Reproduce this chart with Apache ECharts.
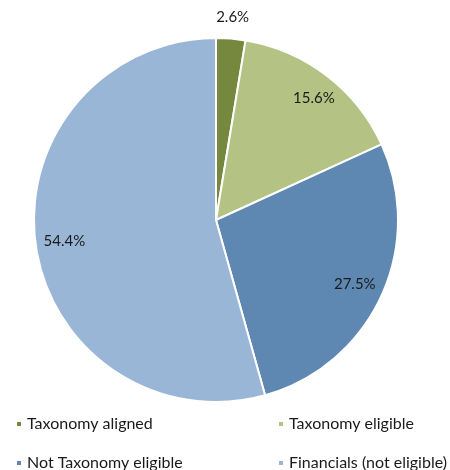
<!DOCTYPE html>
<html>
<head>
<meta charset="utf-8">
<script src="https://cdn.jsdelivr.net/npm/echarts@6/dist/echarts.min.js"></script>
<style>
  html, body { margin: 0; padding: 0; background: #ffffff; }
  #chart { width: 450px; height: 470px; }
</style>
</head>
<body>
<div id="chart"></div>
<script>
// Share of activities by taxonomy status (percent)
const categories = ['Taxonomy aligned', 'Taxonomy eligible', 'Not Taxonomy eligible', 'Financials (not eligible)'];
const shares = [2.6, 15.6, 27.5, 54.4];
const colors = ['#76873E', '#B4C284', '#5E87B1', '#9AB6D7'];

const CENTER = [216, 220];
const R = 182;
const FONT = 'Lato, "Noto Sans", sans-serif';
const fmt = p => p.value.toFixed(1) + '%';

const slices = categories.map((name, i) => ({
  name, value: shares[i], itemStyle: { color: colors[i] }
}));

// Value labels drawn on transparent rings so they sit at a chosen radius
const innerLabels = categories.map((name, i) => ({
  name, value: shares[i],
  label: i === 0 ? { show: false }
       : (i === 1 ? { padding: [0, 0, 12, 10] } : {})
}));
const outerLabels = categories.map((name, i) => ({
  name, value: shares[i],
  label: { show: i === 0 }
}));

const labelRing = (radius, data) => ({
  type: 'pie', center: CENTER, radius, silent: true,
  startAngle: 90, clockwise: true,
  itemStyle: { color: 'rgba(0,0,0,0)', borderWidth: 0 },
  label: { show: true, position: 'inside', formatter: fmt,
           color: '#1a1a1a', fontSize: 15, fontFamily: FONT },
  labelLine: { show: false },
  emphasis: { disabled: true },
  data
});

// One legend entry per box: two columns, two rows
const legendSlots = [[15, 416], [277, 416], [15, 455], [277, 455]];
const legends = categories.map((name, i) => ({
  left: legendSlots[i][0], top: legendSlots[i][1],
  padding: 0, icon: 'rect', itemWidth: 6, itemHeight: 6,
  selectedMode: false, data: [name],
  textStyle: { color: '#1a1a1a', fontSize: 16, fontFamily: FONT, lineHeight: 16 }
}));

const chart = echarts.init(document.getElementById('chart'), null, { renderer: 'canvas' });
chart.setOption({
  backgroundColor: '#ffffff',
  animation: false,
  legend: legends,
  series: [
    {
      type: 'pie', center: CENTER, radius: [0, R],
      startAngle: 90, clockwise: true,
      itemStyle: { borderColor: '#ffffff', borderWidth: 2 },
      label: { show: false }, labelLine: { show: false },
      emphasis: { disabled: true },
      data: slices
    },
    labelRing([118, R], innerLabels),
    labelRing([R, 220], outerLabels)
  ]
});
</script>
</body>
</html>
